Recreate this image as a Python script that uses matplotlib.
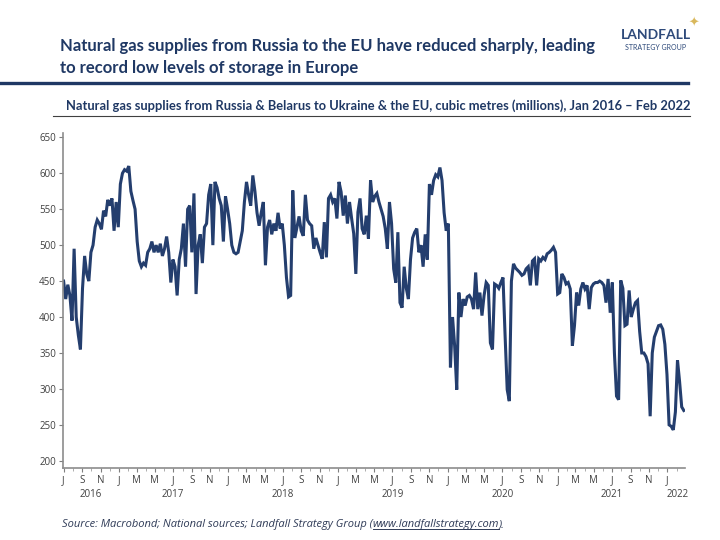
import numpy as np
import pandas as pd
import matplotlib
matplotlib.use('Agg')
import matplotlib.pyplot as plt
import matplotlib.dates as mdates
from matplotlib.lines import Line2D

# weekly readings, Jul 2016 - Feb 2022 (mcm/day)
start = '2016-07-01'
supply = [
    450, 425, 445, 430, 395, 495, 400, 375, 355, 440,
    485, 460, 450, 490, 500, 525, 535, 530, 522, 548,
    540, 563, 555, 565, 520, 560, 525, 585, 600, 605,
    603, 610, 575, 562, 550, 505, 478, 470, 475, 472,
    490, 495, 505, 490, 500, 490, 502, 485, 495, 512,
    490, 448, 480, 470, 430, 480, 495, 530, 470, 550,
    555, 490, 572, 432, 500, 515, 475, 525, 530, 570,
    585, 500, 588, 580, 565, 555, 505, 568, 550, 530,
    500, 490, 488, 490, 505, 520, 560, 588, 570, 555,
    597, 575, 545, 527, 545, 560, 472, 525, 535, 515,
    530, 520, 545, 523, 530, 500, 455, 428, 430, 576,
    510, 525, 540, 520, 513, 570, 535, 530, 527, 495,
    510, 500, 490, 481, 532, 483, 565, 570, 560, 565,
    537, 588, 574, 541, 569, 530, 560, 537, 516, 460,
    546, 565, 523, 515, 541, 509, 590, 560, 568, 572,
    560, 550, 540, 523, 495, 560, 530, 467, 448, 518,
    420, 413, 470, 440, 425, 480, 510, 518, 523, 490,
    500, 470, 515, 480, 585, 570, 590, 598, 595, 608,
    590, 545, 520, 530, 330, 400, 360, 299, 434, 400,
    425, 416, 428, 430, 425, 411, 462, 411, 434, 402,
    430, 448, 444, 364, 355, 446, 444, 440, 448, 455,
    374, 299, 283, 450, 474, 468, 465, 462, 458, 460,
    467, 470, 444, 478, 481, 444, 481, 478, 483, 480,
    488, 490, 493, 497, 490, 432, 434, 460, 455, 446,
    448, 439, 360, 388, 434, 416, 439, 448, 439, 444,
    411, 441, 446, 448, 448, 450, 448, 444, 420, 453,
    406, 448, 350, 290, 285, 451, 440, 388, 390, 437,
    400, 411, 420, 423, 380, 350, 350, 345, 335, 262,
    350, 372, 380, 388, 389, 383, 362, 320, 250, 248,
    243, 268, 340, 310, 275, 270,
]
dates = pd.date_range(start, periods=len(supply), freq='7D')

month_letters = ['J', 'F', 'M', 'A', 'M', 'J', 'J', 'A', 'S', 'O', 'N', 'D']
tick_months = pd.date_range('2016-07-01', '2022-01-01', freq='2MS')
year_labels = ['2016', '2017', '2018', '2019', '2020', '2021', '2022']
year_pos = ['2016-09-30', '2017-07-01', '2018-07-01', '2019-07-01',
            '2020-07-01', '2021-07-01', '2022-02-06']

NAVY = '#1f3864'
LINE = '#243e6e'
GREY = '#404040'

fig = plt.figure(figsize=(7.2, 5.4), dpi=100)
ax = fig.add_axes([63/720, 1-468/540, (685-63)/720, (468-133)/540])

ax.plot(dates, supply, color=LINE, lw=2.2, solid_joinstyle='miter')

ax.set_xlim(pd.Timestamp('2016-06-29'), pd.Timestamp('2022-03-01'))
ax.set_ylim(190, 656)
ax.set_yticks(range(200, 651, 50))
ax.tick_params(axis='y', labelsize=7, colors=GREY, length=3, width=0.8, pad=2)
ax.tick_params(axis='y', color='#7f7f7f')

for s in ['top', 'right']:
    ax.spines[s].set_visible(False)
for s in ['left', 'bottom']:
    ax.spines[s].set_color('#8c8c8c')
    ax.spines[s].set_linewidth(1.2)

# month ticks and letters
ax.set_xticks(mdates.date2num(tick_months))
ax.set_xticklabels([month_letters[d.month-1] for d in tick_months])
ax.tick_params(axis='x', labelsize=7, colors=GREY, length=3, width=0.8,
               color='#7f7f7f', pad=2)
ax.set_xticks(mdates.date2num(pd.date_range('2016-08-01', '2022-02-01', freq='MS')),
              minor=True)
ax.tick_params(axis='x', which='minor', length=2, width=0.6, color='#9f9f9f')
for yl, yp in zip(year_labels, year_pos):
    ax.text(mdates.date2num(pd.Timestamp(yp)), -0.08, yl, transform=ax.get_xaxis_transform(),
            ha='center', va='center', fontsize=7, color=GREY, family='Open Sans')
for lab in ax.get_xticklabels() + ax.get_yticklabels():
    lab.set_family('Open Sans')

# header
fig.text(60/720, 1-46/540, 'Natural gas supplies from Russia to the EU have reduced sharply, leading',
         fontsize=12, fontweight='bold', color=NAVY, family='Lato', va='center')
fig.text(60/720, 1-68/540, 'to record low levels of storage in Europe',
         fontsize=12, fontweight='bold', color=NAVY, family='Lato', va='center')
fig.add_artist(Line2D([0, 688/720], [1-83/540, 1-83/540], color=NAVY, lw=2.4,
                      transform=fig.transFigure))
fig.text(690/720, 1-106/540,
         'Natural gas supplies from Russia & Belarus to Ukraine & the EU, cubic metres (millions), Jan 2016 \u2013 Feb 2022',
         fontsize=9.3, fontweight='bold', color=NAVY, family='Lato', va='center', ha='right')
fig.add_artist(Line2D([53/720, 690/720], [1-115.5/540, 1-115.5/540], color='#404040', lw=0.8,
                      transform=fig.transFigure))

# logo
fig.text(656/720, 1-35/540, 'LANDFALL', fontsize=10, fontweight='bold', color='#2e4a7a',
         family='Lato', ha='center', va='center')
fig.text(656/720, 1-48/540, 'STRATEGY GROUP', fontsize=5, color='#2e4a7a',
         family='Lato', ha='center', va='center')
fig.text(694/720, 1-23/540, '\u2726', fontsize=9, color='#d9b85c',
         family='DejaVu Sans', ha='center', va='center')

# source line with underlined url
src_y = 1-525/540
t1 = fig.text(62/720, src_y, 'Source: Macrobond; National sources; Landfall Strategy Group (',
              fontsize=8, style='italic', color='#2f3b57', family='Open Sans', va='center')
fig.canvas.draw()
r = fig.canvas.get_renderer()
bb = t1.get_window_extent(r)
t2 = fig.text(bb.x1/720, src_y, 'www.landfallstrategy.com', fontsize=8, style='italic',
              color='#2f3b57', family='Open Sans', va='center')
bb2 = t2.get_window_extent(r)
fig.text(bb2.x1/720, src_y, ').', fontsize=8, style='italic', color='#2f3b57',
         family='Open Sans', va='center')
fig.add_artist(Line2D([bb2.x0/720, bb2.x1/720], [bb2.y0/540 + 0.002]*2, color='#2f3b57', lw=0.7,
                      transform=fig.transFigure))

fig.savefig('out.png', dpi=100)
